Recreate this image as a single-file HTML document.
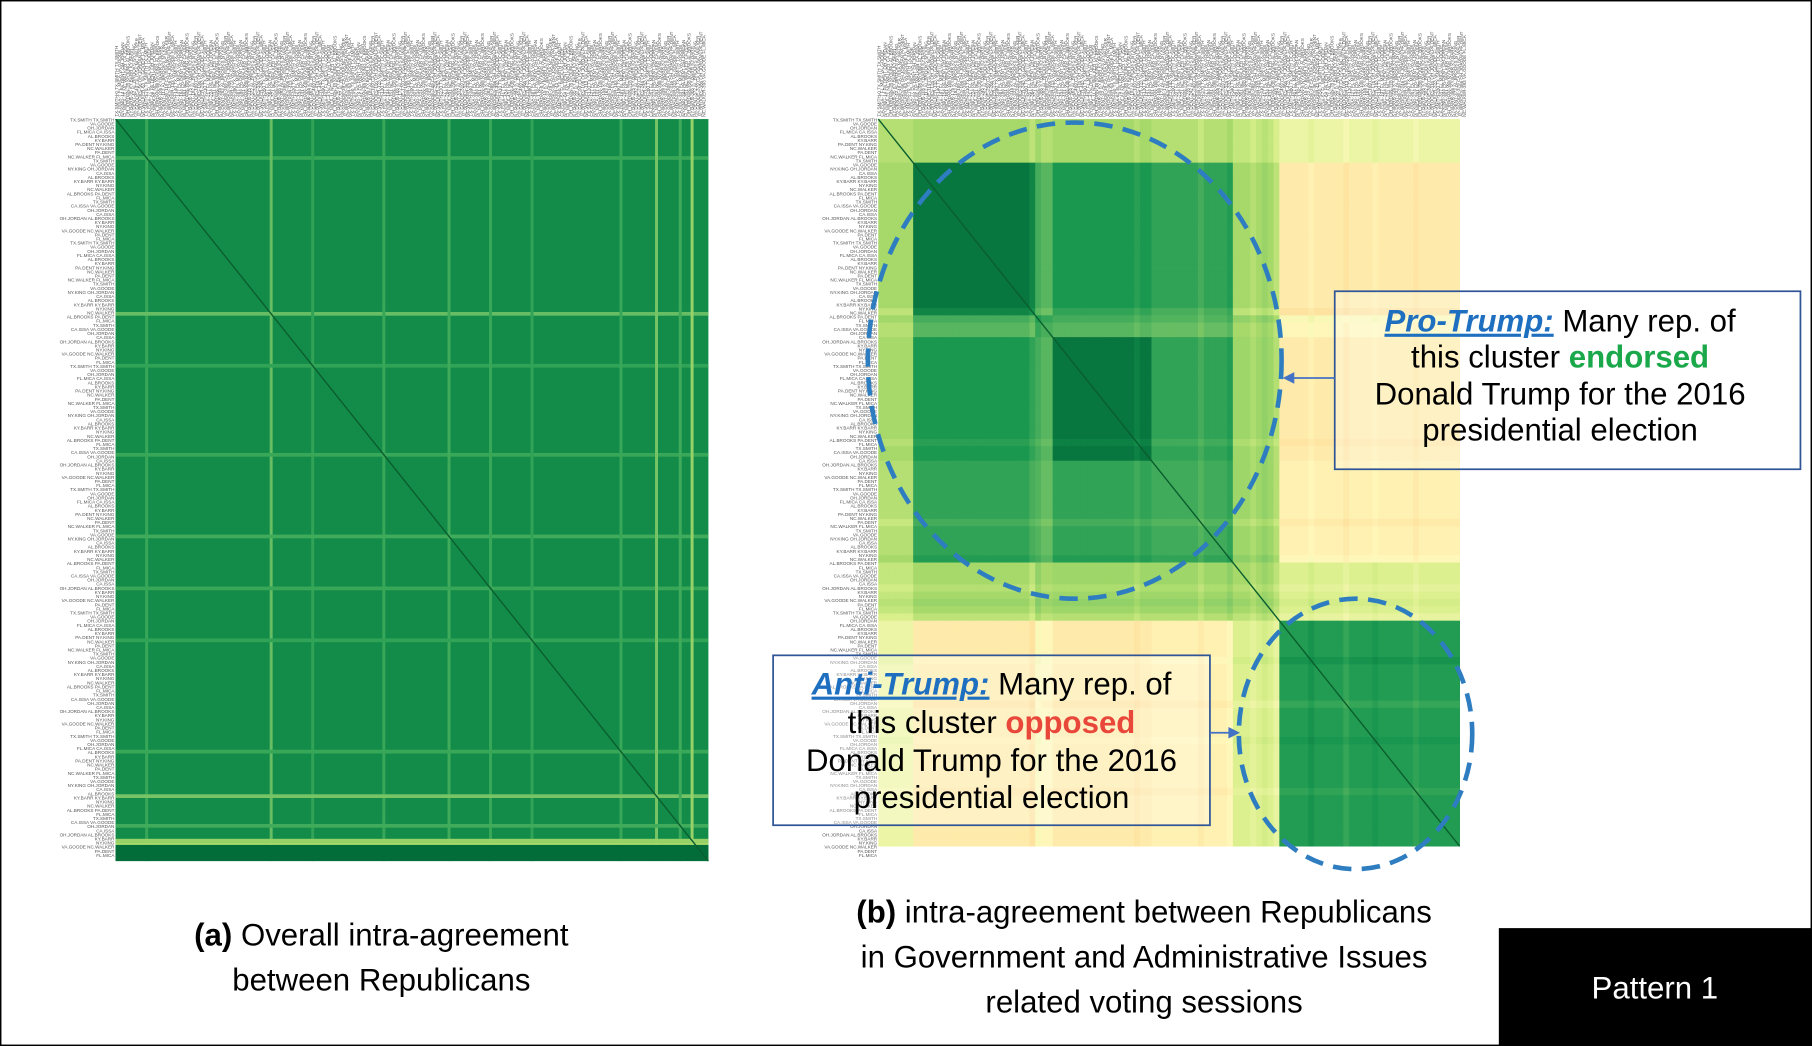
<!DOCTYPE html>
<html><head><meta charset="utf-8">
<style>
html,body{margin:0;padding:0;background:#fff;}
svg{display:block;}
text{font-family:"Liberation Sans","DejaVu Sans",sans-serif;}
</style></head>
<body>
<svg id="root" width="1812" height="1046" viewBox="0 0 1568 905" preserveAspectRatio="none" xmlns="http://www.w3.org/2000/svg">
<rect x="0.5" y="0.5" width="1567" height="904" fill="#fff" stroke="#000" stroke-width="1.5"/>
<g id="leftLabels"></g>
<g id="rightLabels"></g>
<g id="leftMap"></g>
<g id="rightMap"></g>

<ellipse cx="930" cy="312" rx="179" ry="206" fill="none" stroke="#2e7dc0" stroke-width="4" stroke-dasharray="16,9"/>
<ellipse cx="1173" cy="635" rx="101" ry="117" fill="none" stroke="#2e7dc0" stroke-width="4" stroke-dasharray="16,9"/>

<g>
<rect x="1155" y="252" width="403" height="154" fill="#fff" fill-opacity="0.3" stroke="#2f5597" stroke-width="1.5"/>
<line x1="1155" y1="327" x2="1116" y2="327" stroke="#4472c4" stroke-width="1.5"/>
<polygon points="1110,327 1120,322 1120,332" fill="#4472c4"/>
<text x="1350" y="287" text-anchor="middle" font-size="27"><tspan fill="#1f6fc0" font-weight="bold" font-style="italic" text-decoration="underline">Pro-Trump:</tspan> Many rep. of</text>
<text x="1350" y="318" text-anchor="middle" font-size="27">this cluster <tspan fill="#1aa84b" font-weight="bold">endorsed</tspan></text>
<text x="1350" y="350" text-anchor="middle" font-size="27">Donald Trump for the 2016</text>
<text x="1350" y="381" text-anchor="middle" font-size="27">presidential election</text>
</g>

<g>
<rect x="669" y="567" width="378" height="147" fill="#fff" fill-opacity="0.3" stroke="#2f5597" stroke-width="1.5"/>
<line x1="1047" y1="634" x2="1066" y2="634" stroke="#4472c4" stroke-width="1.5"/>
<polygon points="1073,634 1063,629 1063,639" fill="#4472c4"/>
<text x="858" y="601" text-anchor="middle" font-size="27"><tspan fill="#1f6fc0" font-weight="bold" font-style="italic" text-decoration="underline">Anti-Trump:</tspan> Many rep. of</text>
<text x="858" y="634" text-anchor="middle" font-size="27">this cluster <tspan fill="#e8473a" font-weight="bold">opposed</tspan></text>
<text x="858" y="667" text-anchor="middle" font-size="27">Donald Trump for the 2016</text>
<text x="858" y="699" text-anchor="middle" font-size="27">presidential election</text>
</g>

<g>
<text x="330" y="818" text-anchor="middle" font-size="27"><tspan font-weight="bold">(a)</tspan> Overall intra-agreement</text>
<text x="330" y="857" text-anchor="middle" font-size="27">between Republicans</text>
</g>
<g>
<text x="990" y="798" text-anchor="middle" font-size="27"><tspan font-weight="bold">(b)</tspan> intra-agreement between Republicans</text>
<text x="990" y="837" text-anchor="middle" font-size="27">in Government and Administrative Issues</text>
<text x="990" y="876" text-anchor="middle" font-size="27">related voting sessions</text>
</g>
<rect x="1297" y="803" width="271" height="102" fill="#000"/>
<text x="1432" y="864" text-anchor="middle" font-size="27" fill="#fff">Pattern 1</text>
</svg>
<script>
// ---- data for heatmap (b): cluster groups and block agreement levels ----
const groupNames = ["A","B","C","D","E","G","F"];
const groupSizes = [6,21,3,17,14,8,31];
const rowA = [0.70,0.72,0.70,0.72,0.70,0.68,0.60];
const rowB = [0.72,0.97,0.82,0.90,0.87,0.72,0.50];
const rowC = [0.70,0.82,0.84,0.82,0.80,0.72,0.54];
const rowD = [0.72,0.90,0.82,0.97,0.87,0.73,0.50];
const rowE = [0.70,0.87,0.80,0.87,0.85,0.73,0.52];
const rowG = [0.68,0.72,0.72,0.73,0.73,0.72,0.64];
const rowF = [0.60,0.50,0.54,0.50,0.52,0.64,0.89];
const blockValues = [rowA,rowB,rowC,rowD,rowE,rowG,rowF];
// stripe rows (index in 0..99) with lighter / darker values
const stripeIdx = [26,27,44,55,60,64,66,68,74,80,85,92];
const stripeDelta = [-0.06,0.05,-0.04,-0.05,0.04,-0.04,0.03,-0.06,0.04,-0.05,0.03,-0.04];
// ---- data for heatmap (a): overall agreement, light stripes ----
const overallBase = 0.925;
const overallN = 100;
const overallStripes = [5,26,33,45,56,63,70,85,91,95,97];
const overallStripeVals = [0.86,0.80,0.87,0.86,0.85,0.86,0.87,0.86,0.78,0.85,0.74];

const NS="http://www.w3.org/2000/svg";
function cmap(v){
  const stops=[[0,[165,0,38]],[0.3,[244,109,67]],[0.42,[253,211,140]],[0.55,[255,250,190]],[0.65,[217,239,139]],[0.72,[166,217,106]],[0.8,[102,189,99]],[0.9,[26,152,80]],[1,[0,104,55]]];
  v=Math.max(0,Math.min(1,v));
  for(let i=1;i<stops.length;i++){if(v<=stops[i][0]){const a=stops[i-1],b=stops[i];const t=(v-a[0])/(b[0]-a[0]);
    return "rgb("+a[1].map((c,k)=>Math.round(c+(b[1][k]-c)*t)).join(",")+")";}}
  return "rgb(0,104,55)";
}
function rect(g,x,y,w,h,f){const r=document.createElementNS(NS,"rect");r.setAttribute("x",x);r.setAttribute("y",y);r.setAttribute("width",w);r.setAttribute("height",h);r.setAttribute("fill",f);
  
  
  g.appendChild(r);return r;}
function diag(g,x0,y0,W,H){
  const l=document.createElementNS(NS,"line");
  l.setAttribute("x1",x0);l.setAttribute("y1",y0);l.setAttribute("x2",x0+W);l.setAttribute("y2",y0+H);
  l.setAttribute("stroke","#0a5e2e");l.setAttribute("stroke-width","1.2");
  
  
  g.appendChild(l);
}

// heatmap (b)
(function(){
  const g=document.getElementById("rightMap");
  const x0=760,y0=103,W=503,H=629,N=groupSizes.reduce((a,b)=>a+b,0);
  const sx=W/N, sy=H/N;
  const gid=[];groupSizes.forEach((s,i)=>{for(let k=0;k<s;k++)gid.push(i);});
  const delta=new Array(N).fill(0);stripeIdx.forEach((r,i)=>delta[r]=stripeDelta[i]);
  for(let i=0;i<N;i++)for(let j=0;j<N;j++){
    let v=blockValues[gid[i]][gid[j]]+(delta[i]+delta[j])/2;
    rect(g,(x0+j*sx).toFixed(2),(y0+i*sy).toFixed(2),(sx+0.4).toFixed(2),(sy+0.4).toFixed(2),cmap(v));
  }
  diag(g,x0,y0,W,H);
})();
// heatmap (a)
(function(){
  const g=document.getElementById("leftMap");
  const x0=100,y0=103,W=513,H=642,N=overallN,sx=W/N,sy=H/N;
  rect(g,x0,y0,W,H,cmap(overallBase));
  overallStripes.forEach((s,i)=>{
    rect(g,(x0+s*sx).toFixed(2),y0,(sx*0.5).toFixed(2),H,cmap(overallStripeVals[i]));
    rect(g,x0,(y0+s*sy).toFixed(2),W,(sy*0.5).toFixed(2),cmap(overallStripeVals[i]));
  });
  rect(g,x0,y0+H-14,W,14,cmap(0.99));
  rect(g,x0,y0+H-16,W,2,cmap(0.72));
  diag(g,x0,y0,W,H);
})();
// tiny representative labels
function labels(gid,x0,x1,yBot,leftX1,yEnd){
  const g=document.getElementById(gid);
  const names=["TX.SMITH","CA.ISSA","NY.KING","FL.MICA","OH.JORDAN","KY.BARR","PA.DENT","VA.GOODE","AL.BROOKS","NC.WALKER"];
  for(let i=0;i<200;i++){
    const x=x0+(x1-x0)*i/200;
    const t=document.createElementNS(NS,"text");
    t.setAttribute("x",x);t.setAttribute("y",yBot);t.setAttribute("font-size","4");t.setAttribute("fill","#555");
    t.setAttribute("transform","rotate(-90 "+x+" "+yBot+")");
    t.textContent=names[i%10]+"-"+(i*7%500)+" "+names[(i*3)%10]+" "+names[(i*7)%10];
    
    
    g.appendChild(t);
  }
  for(let i=0;i<180;i++){
    const y=yBot+4+(yEnd-yBot-4)*i/180;
    const t=document.createElementNS(NS,"text");
    t.setAttribute("x",leftX1);t.setAttribute("y",y);t.setAttribute("font-size","4");t.setAttribute("fill","#555");t.setAttribute("text-anchor","end");
    t.textContent=(i%3===0?names[i%10]+" ":"")+names[(i*7)%10];
    
    
    g.appendChild(t);
  }
}
labels("leftLabels",102,613,101,99,745);
labels("rightLabels",762,1271,101,759,745);
</script>
</body></html>
